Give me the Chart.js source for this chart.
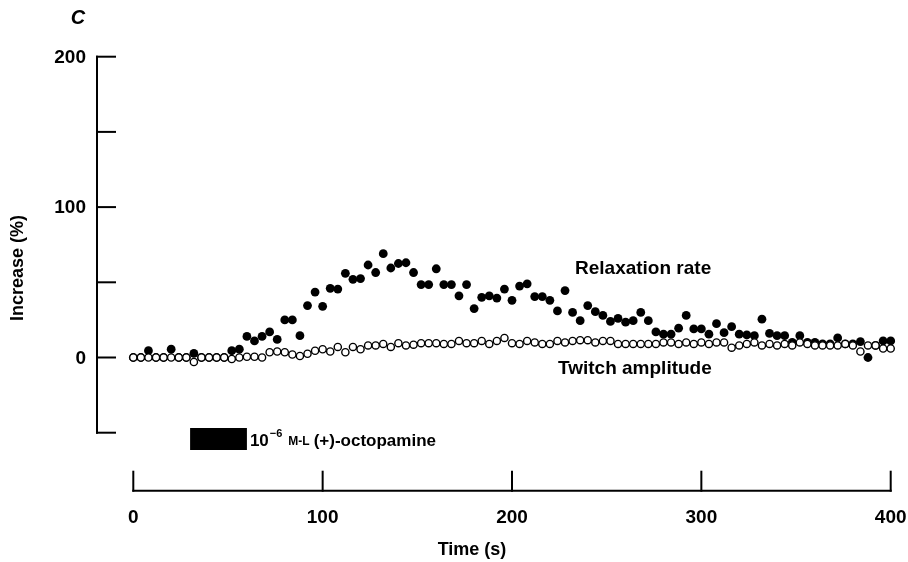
<!DOCTYPE html>
<html><head><meta charset="utf-8">
<script src="https://cdn.jsdelivr.net/npm/chart.js@4"></script>
<style>html,body{margin:0;padding:0;background:#fff}#wrap{width:908px;height:562px;position:relative}</style>
</head><body><div id="wrap"><canvas id="c"></canvas></div>
<script>
const times = [0,4,8,12,16,20,24,28,32,36,40,44,48,52,56,60,64,68,72,76,80,84,88,92,96,
100,104,108,112,116,120,124,128,132,136,140,144,148,152,156,160,164,168,172,176,180,184,188,192,196,
200,204,208,212,216,220,224,228,232,236,240,244,248,252,256,260,264,268,272,276,280,284,288,292,296,
300,304,308,312,316,320,324,328,332,336,340,344,348,352,356,360,364,368,372,376,380,384,388,392,396,400];
const relaxationRate = [0,0,4.5,0,0,5.5,0,0,2.7,0,0,0,0,4.5,5.5,14,11,14,17,12,25,25,14.5,34.5,43.5,
34,46,45.5,56,52,52.5,61.5,56.5,69,59.5,62.5,63,56.5,48.5,48.5,59,48.5,48.5,41,48.5,32.5,40,41,39.5,45.5,
38,47.5,49,40.5,40.5,38,31,44.5,30,24.5,34.5,30.5,28,24,26,23.5,24.5,30,24.5,17,15.5,15.5,19.5,28,19,
19,15.5,22.5,16.5,20.5,15.5,15,14.5,25.5,16,14.5,14.5,10,14.5,10,10,9,9,13,9,9,10.5,0,8,11,11];
const twitchAmplitude = [0,0,0,0,0,0,0,0,-3,0,0,0,0,-1,0,0.5,0.5,0,3.5,4,3.5,2,1,2.5,4.5,
5.5,4,7,3.5,7,5.5,8,8,9,7,9.5,8,8.5,9.5,9.5,9.5,9,9,11,9.5,9.5,11,9,11,13,
9.5,9,11,10,9,9,11,10,11,11.5,11.5,10,11,11,9,9,9,9,9,9,10,10,9,10,9,
10,9,10,10,6.5,8,9,10,8,9,8,9,8,10,9,8,8,8,8,9,8,4,8,8,6,6];
const xTickValues = [0,100,200,300,400];
const xTickLabels = ['0','100','200','300','400'];
const yTickValues = [-50,0,50,100,150,200];
const yTickLabels = ['','0','','100','','200'];
const drugStart = 30, drugEnd = 60;

const FONT = '"Liberation Sans", Arial, sans-serif';

const axesPlugin = {
  id: 'paperAxes',
  afterDatasetsDraw(chart) {
    const ctx = chart.ctx, xs = chart.scales.x, ys = chart.scales.y;
    ctx.save();
    ctx.strokeStyle = '#000'; ctx.fillStyle = '#000';
    ctx.lineWidth = 2; ctx.lineCap = 'square';
    // y axis
    const yAxisX = 97, yTickLen = 18;
    ctx.beginPath();
    ctx.moveTo(yAxisX, ys.getPixelForValue(200));
    ctx.lineTo(yAxisX, ys.getPixelForValue(-50));
    ctx.stroke();
    ctx.font = 'bold 19px ' + FONT;
    ctx.textAlign = 'right'; ctx.textBaseline = 'middle';
    yTickValues.forEach((v, i) => {
      const py = ys.getPixelForValue(v);
      ctx.beginPath(); ctx.moveTo(yAxisX, py); ctx.lineTo(yAxisX + yTickLen, py); ctx.stroke();
      if (yTickLabels[i]) ctx.fillText(yTickLabels[i], 86, py + 1);
    });
    // x axis
    const xAxisY = 490.7, xTickLen = 19;
    ctx.beginPath();
    ctx.moveTo(xs.getPixelForValue(0), xAxisY);
    ctx.lineTo(xs.getPixelForValue(400), xAxisY);
    ctx.stroke();
    ctx.textAlign = 'center'; ctx.textBaseline = 'middle';
    xTickValues.forEach((v, i) => {
      const px = xs.getPixelForValue(v);
      ctx.beginPath(); ctx.moveTo(px, xAxisY); ctx.lineTo(px, xAxisY - xTickLen); ctx.stroke();
      ctx.fillText(xTickLabels[i], px, 518);
    });
    // axis titles
    ctx.font = 'bold 18px ' + FONT;
    ctx.fillText('Time (s)', 472, 550);
    ctx.save();
    ctx.translate(18, 268); ctx.rotate(-Math.PI / 2);
    ctx.fillText('Increase (%)', 0, 0);
    ctx.restore();
    // panel letter
    ctx.font = 'italic bold 20px ' + FONT;
    ctx.fillText('C', 78, 18);
    // series labels
    ctx.font = 'bold 19px ' + FONT;
    ctx.textAlign = 'left';
    ctx.fillText('Relaxation rate', 575, 269);
    ctx.fillText('Twitch amplitude', 558, 369);
    // drug bar
    const bx0 = xs.getPixelForValue(drugStart), bx1 = xs.getPixelForValue(drugEnd);
    ctx.fillRect(bx0, 428, bx1 - bx0, 22);
    let tx = bx1 + 3; const ty = 441;
    ctx.font = 'bold 17px ' + FONT;
    ctx.fillText('10', tx, ty); tx += ctx.measureText('10').width + 1;
    ctx.font = 'bold 11px ' + FONT;
    ctx.fillText('\u22126', tx, ty - 7); tx += ctx.measureText('\u22126').width + 6;
    ctx.font = 'bold 12px ' + FONT;
    ctx.fillText('M-L', tx, ty + 1); tx += ctx.measureText('M-L').width + 4;
    ctx.font = 'bold 17px ' + FONT;
    ctx.fillText('(+)-octopamine', tx, ty);
    ctx.restore();
  }
};

const relaxPts = times.map((t, i) => ({x: t, y: relaxationRate[i]}));
const twitchPts = times.map((t, i) => ({x: t, y: twitchAmplitude[i]}));

new Chart(document.getElementById('c'), {
  type: 'scatter',
  data: {
    datasets: [
      {label: 'Twitch amplitude', data: twitchPts, order: 0, clip: false,
       pointRadius: 3.6, pointBackgroundColor: '#fff', pointBorderColor: '#000', pointBorderWidth: 1.4},
      {label: 'Relaxation rate', data: relaxPts, order: 1, clip: false,
       pointRadius: 4.4, pointBackgroundColor: '#000', pointBorderColor: '#000', pointBorderWidth: 0}
    ]
  },
  options: {
    responsive: true, maintainAspectRatio: false, animation: false,
    layout: {padding: {left: 133.3, right: 17.3, top: 56.7, bottom: 129.3}},
    scales: {
      x: {type: 'linear', min: 0, max: 400, display: false},
      y: {type: 'linear', min: -50, max: 200, display: false}
    },
    plugins: {legend: {display: false}, tooltip: {enabled: false}}
  },
  plugins: [axesPlugin]
});
</script></body></html>
